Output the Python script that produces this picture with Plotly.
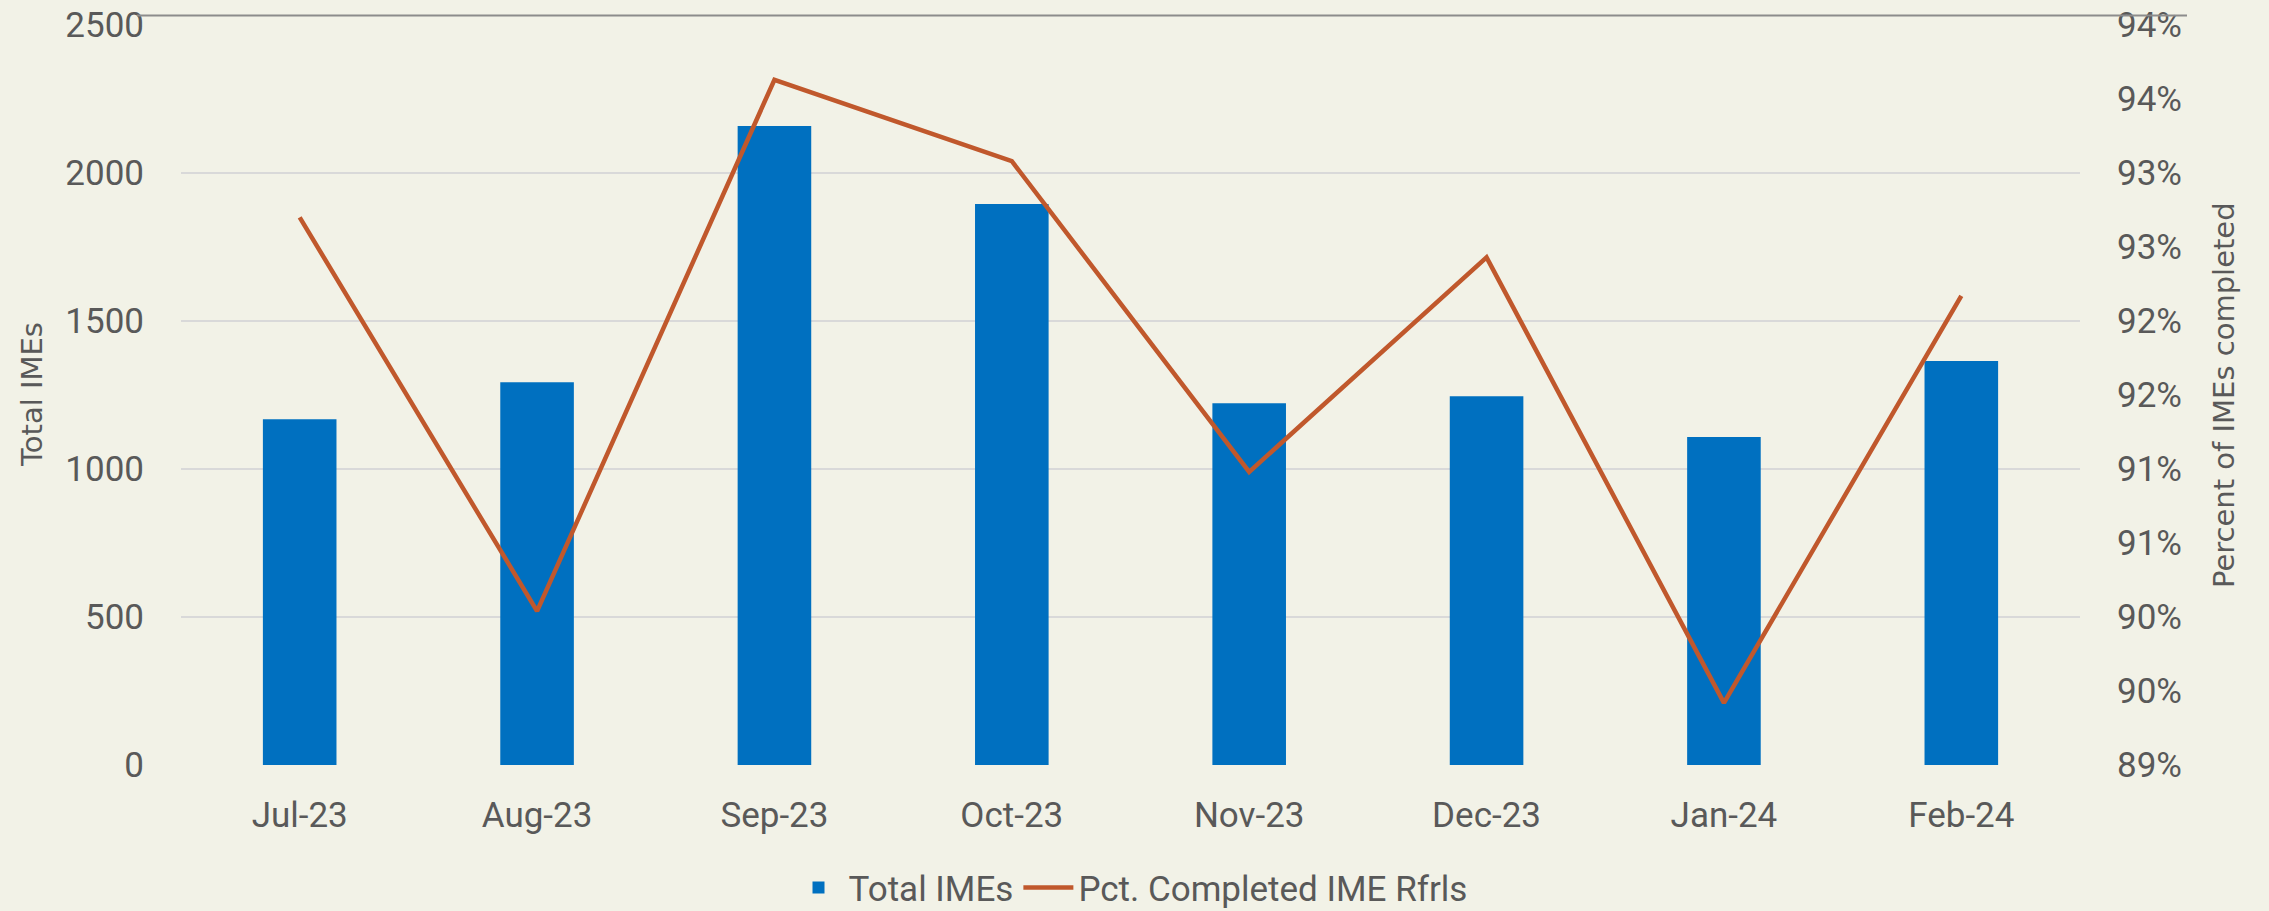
import plotly.graph_objects as go

months = ["Jul-23", "Aug-23", "Sep-23", "Oct-23", "Nov-23", "Dec-23", "Jan-24", "Feb-24"]
total_imes = [1168, 1293, 2159, 1895, 1222, 1246, 1108, 1365]
pct_completed = [0.9270, 0.9004, 0.9363, 0.9308, 0.9098, 0.9243, 0.8942, 0.9217]

left_ticks = [0, 500, 1000, 1500, 2000, 2500]
right_tick_vals = [0.89, 0.895, 0.90, 0.905, 0.91, 0.915, 0.92, 0.925, 0.93, 0.935, 0.94]
right_tick_labels = ["89%", "90%", "90%", "91%", "91%", "92%", "92%", "93%", "93%", "94%", "94%"]

BG = "#F2F2E7"
TXT = "#595959"
TICKFONT = dict(family="Roboto, Liberation Sans", size=35, color=TXT)

fig = go.Figure()
fig.add_trace(go.Bar(
    x=months, y=total_imes, name="Total IMEs",
    marker=dict(color="#0070C0", line=dict(width=0)),
    yaxis="y",
))
fig.add_trace(go.Scatter(
    x=months, y=pct_completed, name="Pct. Completed IME Rfrls",
    mode="lines", line=dict(color="#C0582C", width=4.5),
    yaxis="y2",
))

fig.update_layout(
    width=2269, height=911,
    paper_bgcolor=BG, plot_bgcolor=BG,
    margin=dict(l=181, r=189, t=25, b=146, autoexpand=False),
    bargap=0.69,
    showlegend=True,
    legend=dict(orientation="h", x=0.5, xanchor="center", y=-0.166, yanchor="middle",
                font=TICKFONT, bgcolor="rgba(0,0,0,0)", itemwidth=50,
                traceorder="normal"),
    xaxis=dict(showgrid=False, zeroline=False, showline=False, automargin=False,
               tickfont=TICKFONT, ticks="", ticklabelstandoff=26),
    yaxis=dict(range=[0, 2500], tickvals=left_ticks, showgrid=True, automargin=False,
               gridcolor="#D9D9D9", gridwidth=2, zeroline=False, showline=False,
               tickfont=TICKFONT, ticklabelstandoff=36),
    yaxis2=dict(range=[0.89, 0.94], overlaying="y", side="right", automargin=False,
                tickvals=right_tick_vals, ticktext=right_tick_labels,
                showgrid=False, zeroline=False, showline=False,
                tickfont=TICKFONT, ticklabelstandoff=36),
    annotations=[
        dict(text="Total IMEs", xref="paper", yref="paper",
             x=(32 - 181) / 1899, y=0.5, xanchor="center", yanchor="middle",
             textangle=-90, showarrow=False,
             font=dict(family="DejaVu Sans", size=29, color=TXT)),
        dict(text="Percent of IMEs completed", xref="paper", yref="paper",
             x=(2224 - 181) / 1899, y=0.5, xanchor="center", yanchor="middle",
             textangle=-90, showarrow=False,
             font=dict(family="DejaVu Sans", size=29, color=TXT)),
    ],
    shapes=[
        dict(type="line", xref="paper", yref="paper",
             x0=(137 - 181) / 1899, x1=(2187 - 181) / 1899,
             y0=(765 - 15.3) / 740.3, y1=(765 - 15.3) / 740.3,
             line=dict(color="#8C8C8C", width=2)),
    ],
)

fig.write_html(
    "out.html",
    config={"displayModeBar": False},
    post_script="document.body.style.margin='0';document.body.style.overflow='hidden';",
)
